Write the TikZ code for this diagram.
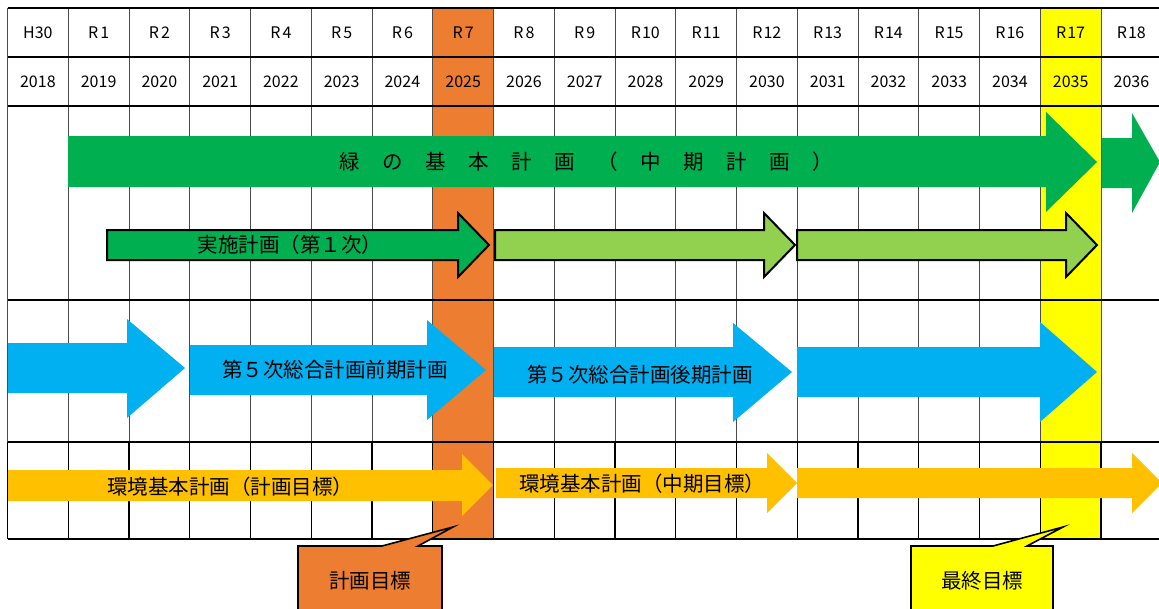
\documentclass[tikz,border=0pt]{standalone}
\usepackage{fontspec}
\setmainfont{Noto Sans CJK JP}
\definecolor{cGreen}{HTML}{00B050}
\definecolor{cLight}{HTML}{92D050}
\definecolor{cBlue}{HTML}{00B0F0}
\definecolor{cGold}{HTML}{FFC000}
\definecolor{cOrange}{HTML}{ED7D31}
\definecolor{cYellow}{HTML}{FFFF00}
\newcommand\gsp[1]{\makebox[43pt]{#1}}
\tikzset{
  hdr/.style={inner sep=0pt, font=\fontsize{16}{16}\selectfont},
  lbl/.style={inner sep=0pt, font=\fontsize{20.5}{20.5}\selectfont},
  boxarrow/.style={draw=black, line width=2pt},
  callout/.style={draw=black, line width=1.6pt},
  hline/.style={black, line width=1.6pt},
  vgray/.style={black!70, line width=0.9pt},
  vblack/.style={black, line width=1.2pt}
}
\begin{document}
\begin{tikzpicture}[x=1pt,y=-1pt,line join=miter]
\useasboundingbox (0,0) rectangle (1159,608);
\fill[white] (0,0) rectangle (1159,608);
% highlighted columns
\fill[cOrange] (432.75,8) rectangle (493.5,539);
\fill[cYellow] (1040.25,8) rectangle (1101,539);
% vertical grid lines
\foreach \i in {0,...,19}{
  \pgfmathsetmacro\xx{7.5+60.75*\i}
  \draw[vgray] (\xx,8) -- (\xx,442);
  \draw[vblack] (\xx,442) -- (\xx,539);
}
% horizontal lines
\foreach \yy in {8,57,106,300,442,539}{
  \draw[hline] (7.5,\yy) -- (1165,\yy);
}
% header labels
\foreach \t [count=\i from 0] in {H30,R\kern2pt1,R\kern2pt2,R\kern2pt3,R\kern2pt4,R\kern2pt5,R\kern2pt6,R\kern2pt7,R\kern2pt8,R\kern2pt9,R\kern1pt10,R\kern1pt11,R\kern1pt12,R\kern1pt13,R\kern1pt14,R\kern1pt15,R\kern1pt16,R\kern1pt17,R\kern1pt18}{
  \pgfmathsetmacro\xx{7.5+60.75*(\i+0.5)}
  \node[hdr] (h\i) at (\xx,32.5) {\t};
}
\foreach \t [count=\i from 0] in {2018,2019,2020,2021,2022,2023,2024,2025,2026,2027,2028,2029,2030,2031,2032,2033,2034,2035,2036}{
  \pgfmathsetmacro\xx{7.5+60.75*(\i+0.5)}
  \node[hdr] (y\i) at (\xx,81.5) {\t};
}
% green main arrows
\fill[cGreen] (68,136) -- (1046,136) -- (1046,112) -- (1097,162) -- (1046,212) -- (1046,187) -- (68,187) -- cycle;
\fill[cGreen] (1102,138) -- (1132,138) -- (1132,113) -- (1160,162) -- (1132,213) -- (1132,188) -- (1102,188) -- cycle;
\node[lbl] (gmain) at (586,162) {\gsp{緑}\gsp{の}\gsp{基}\gsp{本}\gsp{計}\gsp{画}\gsp{（}\gsp{中}\gsp{期}\gsp{計}\gsp{画}\gsp{）}};
% implementation plan arrows
\filldraw[boxarrow, fill=cGreen] (107,230) -- (458,230) -- (458,213) -- (489,245) -- (458,277) -- (458,260) -- (107,260) -- cycle;
\filldraw[boxarrow, fill=cLight] (495,230) -- (764,230) -- (764,213) -- (795,245) -- (764,277) -- (764,260) -- (495,260) -- cycle;
\filldraw[boxarrow, fill=cLight] (797,230) -- (1066,230) -- (1066,213) -- (1097,245) -- (1066,277) -- (1066,260) -- (797,260) -- cycle;
\node[lbl] (impl) at (290,245) {実施計画（第１次）};
% blue arrows
\fill[cBlue] (8,343) -- (127,343) -- (127,319) -- (185,368) -- (127,418) -- (127,393) -- (8,393) -- cycle;
\fill[cBlue] (190,345) -- (427,345) -- (427,320) -- (486,370) -- (427,420) -- (427,395) -- (190,395) -- cycle;
\fill[cBlue] (494,347) -- (733,347) -- (733,323) -- (792,372) -- (733,422) -- (733,397) -- (494,397) -- cycle;
\fill[cBlue] (797,347) -- (1040,347) -- (1040,322) -- (1097,372) -- (1040,422) -- (1040,397) -- (797,397) -- cycle;
\node[lbl] (zen) at (335,370) {第５次総合計画前期計画};
\node[lbl] (kou) at (640,375) {第５次総合計画後期計画};
% gold arrows
\fill[cGold] (8,470) -- (462,470) -- (462,454) -- (493,485) -- (462,516) -- (462,501) -- (8,501) -- cycle;
\fill[cGold] (496,468) -- (767,468) -- (767,453) -- (797,483) -- (767,513) -- (767,498) -- (496,498) -- cycle;
\fill[cGold] (797,468) -- (1132,468) -- (1132,453) -- (1162,483) -- (1132,513) -- (1132,498) -- (797,498) -- cycle;
\node[lbl] (env1) at (230,487) {環境基本計画（計画目標）};
\node[lbl] (env2) at (642,484) {環境基本計画（中期目標）};
% callouts
\filldraw[callout, fill=cOrange] (298,546) -- (382,546) -- (453,527) -- (418,546) -- (442,546) -- (442,615) -- (298,615) -- cycle;
\node[lbl] (goal1) at (370,581) {計画目標};
\filldraw[callout, fill=cYellow] (911,546) -- (993,546) -- (1063,527) -- (1027,546) -- (1053,546) -- (1053,615) -- (911,615) -- cycle;
\node[lbl] (goal2) at (982,581) {最終目標};
\end{tikzpicture}
\end{document}
